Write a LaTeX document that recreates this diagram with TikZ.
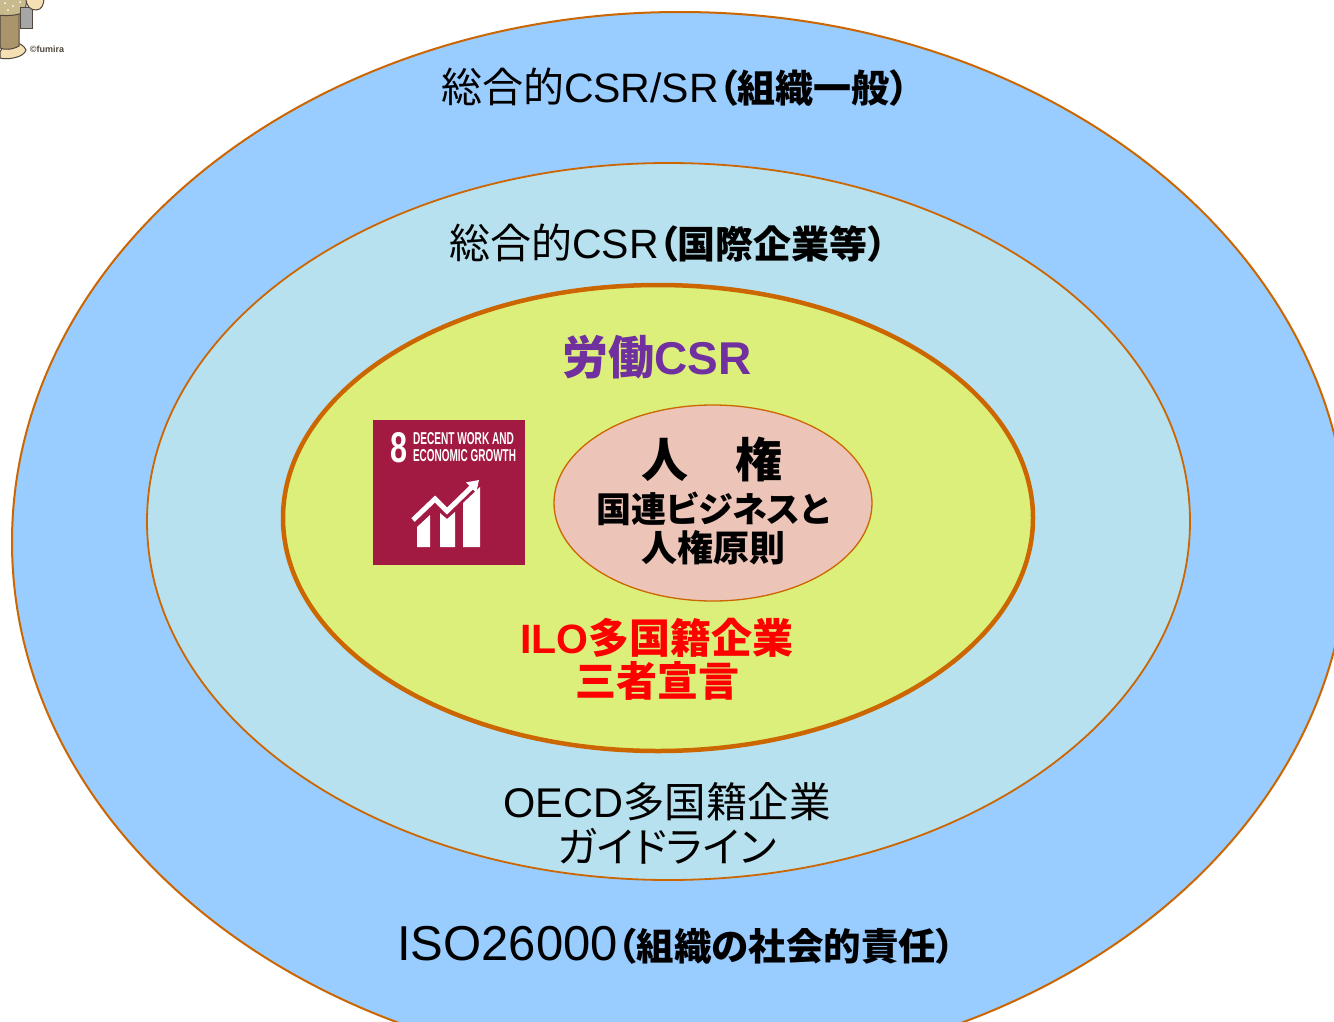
\documentclass[tikz,border=0pt]{standalone}
\usepackage{fontspec}
\usepackage{graphicx}
\setmainfont{Noto Sans CJK JP}[RawFeature={+palt}]
\newfontfamily\lat{Liberation Sans}
\usetikzlibrary{shapes.geometric,arrows.meta}

\definecolor{outerblue}{RGB}{153,204,255}
\definecolor{midblue}{RGB}{183,225,238}
\definecolor{lime}{RGB}{220,239,122}
\definecolor{rose}{RGB}{236,196,184}
\definecolor{rim}{RGB}{204,102,0}
\definecolor{sdgred}{RGB}{162,25,66}
\definecolor{labpurple}{RGB}{112,48,160}
\definecolor{khaki}{RGB}{200,186,140}
\definecolor{trouser}{RGB}{170,148,108}
\definecolor{skin}{RGB}{245,224,180}
\definecolor{outline}{RGB}{80,70,60}

\newcommand{\setfs}[2]{\fontsize{#1}{#2}\selectfont}

\tikzset{
  ring/.style={ellipse, draw=rim, inner sep=0pt, outer sep=0pt},
  txt/.style={inner sep=0pt, outer sep=0pt, align=center},
  sdgtxt/.style={inner sep=0pt, outer sep=0pt, anchor=north west, text=white, font=\lat\bfseries}
}

\begin{document}
\begin{tikzpicture}[x=1pt,y=-1pt]
\path[use as bounding box] (0,0) rectangle (1334,1021);
\clip (0,0) rectangle (1334,1021);

% nested scopes
\node[ring, fill=outerblue, line width=2pt, minimum width=1336pt, minimum height=1060pt] (outer) at (680,542) {};
\node[ring, fill=midblue, line width=1.8pt, minimum width=1043pt, minimum height=717pt] (middle) at (668.5,521.5) {};
\node[ring, fill=lime, line width=4.5pt, minimum width=750pt, minimum height=466pt] (labour) at (658,518) {};
\node[ring, fill=rose, line width=1.3pt, minimum width=318pt, minimum height=196pt] (rights) at (713,503) {};

% labels of the rings
\node[txt] (general) at (675,87) {\setfs{41}{49}総合的{\lat CSR/SR}{\setfs{38}{49}\bfseries （組織一般）}};
\node[txt] (intl) at (668,243) {\setfs{41}{49}総合的{\lat CSR}{\setfs{38}{49}\bfseries （国際企業等）}};
\node[txt, text=labpurple, font=\setfs{46}{52}\bfseries] (labourcsr) at (657,357) {労働{\lat CSR}};
\node[txt, font=\setfs{47}{52}\bfseries] (rightstitle) at (712,459) {人　権};
\node[txt, font=\setfs{35}{39}\bfseries] (ungp) at (713,528) {国連ビジネスと\\{\setfs{36}{39}人権原則}};
\node[txt, text=red, font=\setfs{41}{43}\bfseries] (ilo) at (657,659) {{\lat ILO}多国籍企業\\三者宣言};
\node[txt, font=\setfs{41.5}{45}] (oecd) at (667,823.5) {{\lat OECD}多国籍企業\\ガイドライン};
\node[txt] (iso) at (676,945) {{\lat\setfs{49}{56}ISO26000}{\setfs{37.5}{56}\bfseries （組織の社会的責任）}};

% SDG 8 icon
\node[fill=sdgred, minimum width=152pt, minimum height=145pt, inner sep=0pt, outer sep=0pt, anchor=north west] (sdg) at (373,420) {};
\node[sdgtxt] (sdgnum) at (390,432) {\resizebox{17pt}{30pt}{8}};
\node[sdgtxt] (sdgline1) at (413,432) {\resizebox{101pt}{12pt}{DECENT WORK AND}};
\node[sdgtxt] (sdgline2) at (413,449.5) {\resizebox{103pt}{12pt}{ECONOMIC GROWTH}};
\fill[white] (417,547) -- (417,527) -- (430,515) -- (430,547) -- cycle;
\fill[white] (440,547) -- (440,513) -- (447,519) -- (455,512) -- (455,547) -- cycle;
\fill[white] (463,547) -- (463,503) -- (480,487) -- (480,547) -- cycle;
\draw[white, line width=5pt, -{Triangle[length=11pt,width=14pt]}] (413,520) -- (435,499) -- (447,511) -- (479,480);

% illustration in the corner
\begin{scope}[draw=outline, line width=1pt]
  \filldraw[fill=skin] (0,52) .. controls (4,40) and (22,40) .. (26,50) .. controls (24,58) and (6,60) .. (0,58) -- cycle;
  \filldraw[fill=trouser] (0,12) -- (19,12) -- (19,46) .. controls (12,50) and (4,50) .. (0,48) -- cycle;
  \filldraw[fill=khaki] (-2,-2) -- (27,-2) -- (25,12) .. controls (16,16) and (6,16) .. (-2,15) -- cycle;
  \filldraw[fill=gray!70] (20,7) rectangle (32,28);
  \filldraw[fill=skin] (26,-2) .. controls (26,6) and (30,10) .. (36,10) .. controls (42,10) and (44,4) .. (44,-2) -- cycle;
\end{scope}
\fill[white] (5,3) circle (1) (13,6) circle (1) (20,2) circle (1) (8,10) circle (1);
\node[txt, text=outline] (credit) at (47,49) {\lat\bfseries\setfs{9}{10}©fumira};
\end{tikzpicture}
\end{document}
